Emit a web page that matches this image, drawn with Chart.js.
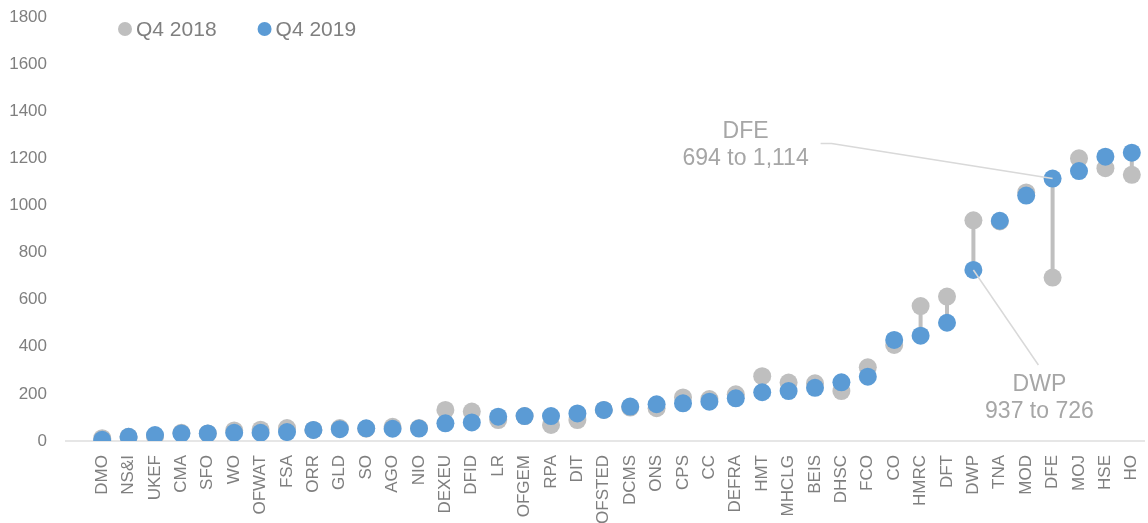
<!DOCTYPE html>
<html>
<head>
<meta charset="utf-8">
<script src="https://cdn.jsdelivr.net/npm/chart.js@4.4.1/dist/chart.umd.min.js"></script>
<style>
  html, body { margin: 0; padding: 0; background: #fff; }
  #wrap { width: 1148px; height: 523px; position: relative; }
</style>
</head>
<body>
<div id="wrap"><canvas id="myChart"></canvas></div>
<script>
// departments, sorted as in the source
const departments = ['DMO', 'NS&I', 'UKEF', 'CMA', 'SFO', 'WO', 'OFWAT', 'FSA', 'ORR', 'GLD', 'SO', 'AGO', 'NIO',
    'DEXEU', 'DFID', 'LR', 'OFGEM', 'RPA', 'DIT', 'OFSTED', 'DCMS', 'ONS', 'CPS', 'CC', 'DEFRA', 'HMT', 'MHCLG',
    'BEIS', 'DHSC', 'FCO', 'CO', 'HMRC', 'DFT', 'DWP', 'TNA', 'MOD', 'DFE', 'MOJ', 'HSE', 'HO'];
const q4_2018 = [12, 18, 20, 35, 32, 45, 48, 55, 47, 55, 52, 60, 55,
    132, 125, 89, 106, 68, 89, 132, 142, 139, 185, 178, 198, 275, 248,
    245, 212, 313, 408, 573, 613, 937, 932, 1055, 694, 1200, 1158, 1130];
const q4_2019 = [5, 18, 25, 32, 32, 35, 35, 38, 47, 50, 54, 52, 53,
    75, 79, 103, 106, 106, 117, 132, 146, 156, 160, 167, 181, 207, 212,
    226, 249, 273, 429, 447, 502, 726, 935, 1042, 1114, 1146, 1207, 1224];
const yTicks = [0, 200, 400, 600, 800, 1000, 1200, 1400, 1600, 1800];

const FONT = '"Liberation Sans", Arial, sans-serif';
const GREY = '#bfbfbf';
const BLUE = '#5b9bd5';

// where the callout text sits, relative to the 2019 point
const callouts = [
    { name: 'DFE', path: [[-221, -35], [-232, -35]], text: [-307, -47] },
    { name: 'DWP', path: [[65, 95]], text: [66, 115] }
];

// grey bar between the two quarters
const gapLines = {
    id: 'gapLines',
    beforeDatasetsDraw(chart) {
        const ctx = chart.ctx;
        const a = chart.getDatasetMeta(0).data;
        const b = chart.getDatasetMeta(1).data;
        ctx.save();
        ctx.strokeStyle = GREY;
        ctx.lineWidth = 4;
        a.forEach((p, i) => {
            ctx.beginPath();
            ctx.moveTo(p.x, p.y);
            ctx.lineTo(b[i].x, b[i].y);
            ctx.stroke();
        });
        ctx.restore();
    }
};

const calloutPlugin = {
    id: 'callouts',
    afterDatasetsDraw(chart) {
        const ctx = chart.ctx;
        const pts = chart.getDatasetMeta(1).data;
        ctx.save();
        callouts.forEach(c => {
            const i = departments.indexOf(c.name);
            const p = pts[i];
            ctx.strokeStyle = '#d9d9d9';
            ctx.lineWidth = 1.5;
            ctx.beginPath();
            ctx.moveTo(p.x, p.y);
            c.path.forEach(o => ctx.lineTo(p.x + o[0], p.y + o[1]));
            ctx.stroke();
            ctx.fillStyle = '#a6a6a6';
            ctx.font = '23px ' + FONT;
            ctx.textAlign = 'center';
            ctx.textBaseline = 'middle';
            const fmt = v => v.toLocaleString('en-GB');
            ctx.fillText(c.name, p.x + c.text[0], p.y + c.text[1]);
            ctx.fillText(fmt(q4_2018[i]) + ' to ' + fmt(q4_2019[i]), p.x + c.text[0], p.y + c.text[1] + 27);
        });
        ctx.restore();
    }
};

// legend sits inside the plot, top left
const legendBox = {
    id: 'legendBox',
    afterDraw(chart) {
        const ctx = chart.ctx;
        const area = chart.chartArea;
        let x = area.left + 36;
        const y = area.top + 12;
        ctx.save();
        ctx.font = '21px ' + FONT;
        ctx.textBaseline = 'middle';
        ctx.textAlign = 'left';
        chart.data.datasets.forEach(ds => {
            ctx.fillStyle = ds.backgroundColor;
            ctx.beginPath();
            ctx.arc(x, y, 7, 0, Math.PI * 2);
            ctx.fill();
            ctx.fillStyle = '#7f7f7f';
            ctx.fillText(ds.label, x + 11, y + 1);
            x += 11 + ctx.measureText(ds.label).width + 48;
        });
        ctx.restore();
    }
};

const myChart = document.getElementById('myChart').getContext('2d');
const mainChart = new Chart(myChart, {
    type: 'line',
    data: {
        labels: departments,
        datasets: [{
            label: 'Q4 2018',
            data: q4_2018,
            showLine: false,
            backgroundColor: GREY,
            borderColor: GREY,
            borderWidth: 0,
            pointRadius: 9,
            order: 2
        }, {
            label: 'Q4 2019',
            data: q4_2019,
            showLine: false,
            backgroundColor: BLUE,
            borderColor: BLUE,
            borderWidth: 0,
            pointRadius: 9,
            order: 1
        }]
    },
    options: {
        responsive: true,
        maintainAspectRatio: false,
        animation: false,
        layout: { autoPadding: false, padding: { top: 17, right: 3, left: 0, bottom: 0 } },
        plugins: {
            legend: { display: false },
            tooltip: { enabled: false }
        },
        scales: {
            x: {
                type: 'category',
                offset: true,
                grid: { display: false },
                border: { display: false },
                ticks: {
                    autoSkip: false,
                    maxRotation: 90,
                    minRotation: 90,
                    color: '#7f7f7f',
                    font: { family: FONT, size: 17 },
                    padding: 6
                },
                afterFit: s => { s.height = 82; s.paddingLeft = 0; s.paddingRight = 0; }
            },
            y: {
                min: 0,
                max: 1800,
                afterBuildTicks: s => { s.ticks = yTicks.map(v => ({ value: v })); },
                grid: {
                    color: c => c.tick && c.tick.value === 0 ? '#e6e6e6' : 'rgba(0,0,0,0)',
                    lineWidth: 2,
                    tickLength: 24,
                    drawTicks: true
                },
                border: { display: false },
                ticks: {
                    color: '#7f7f7f',
                    font: { family: FONT, size: 17 },
                    padding: 18,
                    callback: v => String(v)
                },
                afterFit: s => { s.width = 89; s.paddingTop = 0; s.paddingBottom = 0; }
            }
        }
    },
    plugins: [gapLines, calloutPlugin, legendBox]
});
</script>
</body>
</html>
